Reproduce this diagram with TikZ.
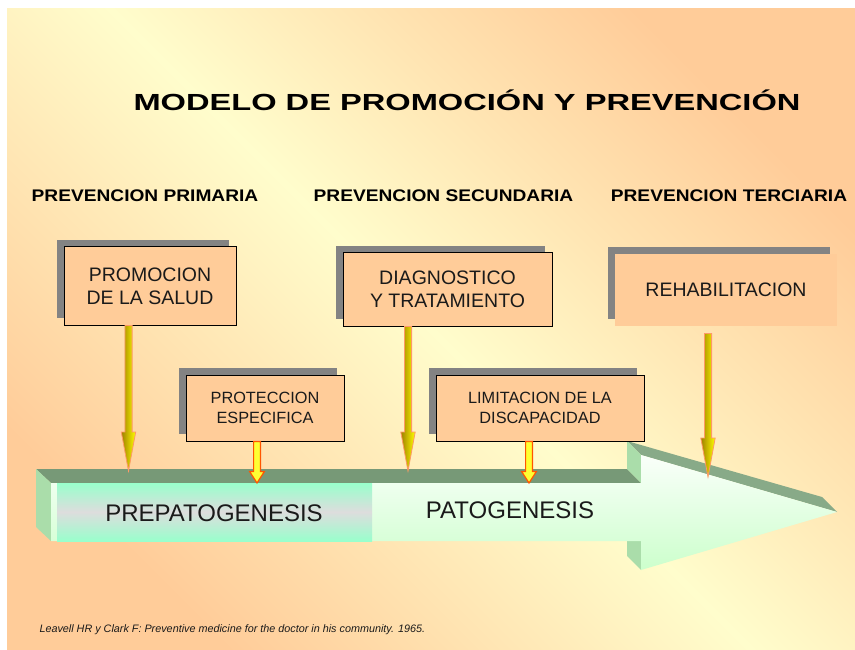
\documentclass[tikz,border=0pt]{standalone}
\usepackage{fontspec}
\setmainfont{Liberation Sans}
\newfontfamily\titlefont[FakeStretch=1.4]{Liberation Sans}
\newfontfamily\headfont[FakeStretch=1.14]{Liberation Sans}
\usetikzlibrary{calc,shadows}
\definecolor{bgYellow}{HTML}{FFFDCC}
\definecolor{bgOrange}{HTML}{FFCC99}
\definecolor{boxPeach}{HTML}{FFCC99}
\definecolor{shadowGray}{HTML}{838383}
\definecolor{barTop}{HTML}{779977}
\definecolor{headTop}{HTML}{88AA88}
\definecolor{barSide}{HTML}{AADDAA}
\definecolor{frontTop}{HTML}{FAFFFA}
\definecolor{frontBottom}{HTML}{CCFFCC}
\definecolor{aquaBand}{HTML}{99FFCC}
\definecolor{grayBand}{HTML}{DDDDDD}
\definecolor{goldDark}{HTML}{A08000}
\definecolor{goldLight}{HTML}{FFFF00}
\definecolor{goldEdge}{HTML}{FF9966}
\definecolor{tipYellow}{HTML}{FFFF33}
\definecolor{tipEdge}{HTML}{FF5500}
\definecolor{inkDark}{HTML}{1A1A1A}
% block arrow pointing down: top, tip, shaft half width, head half width, head length, style
\newcommand{\flecha}[6]{%
  \path[#6] ($(#1)+(-#3,0)$) -- ($(#2)+(-#3,-#5)$) -- ($(#2)+(-#4,-#5)$) -- (#2)
    -- ($(#2)+(#4,-#5)$) -- ($(#2)+(#3,-#5)$) -- ($(#1)+(#3,0)$) -- cycle;}

\begin{document}
\begin{tikzpicture}[
    x=1pt, y=-1pt,
    box/.style={draw, line width=1pt, fill=boxPeach, text=inkDark, align=center, inner sep=0pt,
      drop shadow={shadow xshift=-7pt, shadow yshift=7pt, opacity=1, fill=shadowGray}},
    bigbox/.style={box, font=\fontsize{19.5}{23}\selectfont},
    smallbox/.style={box, font=\fontsize{16.3}{20}\selectfont},
    heading/.style={font=\headfont\bfseries\fontsize{16.8}{20}\selectfont, text=black},
    phase/.style={font=\fontsize{24}{28}\selectfont, text=inkDark},
    goldarr/.style={left color=goldDark, right color=goldLight, draw=goldEdge, line width=0.8pt, line join=miter},
    tiparr/.style={fill=tipYellow, draw=tipEdge, line width=1.2pt, line join=miter}
  ]
    \useasboundingbox (0,0) rectangle (855,650);
    \shade[top color=bgOrange, bottom color=bgOrange, middle color=bgYellow, shading angle=-45]
      (7,9) rectangle (855,650);

    % titles
    \node[font=\titlefont\bfseries\fontsize{23.3}{28}\selectfont] (title) at (467,100)
      {MODELO DE PROMOCIÓN Y PREVENCIÓN};
    \node[heading] (hprim) at (145,196) {PREVENCION PRIMARIA};
    \node[heading] (hsec) at (443.5,196) {PREVENCION SECUNDARIA};
    \node[heading] (hter) at (729,196) {PREVENCION TERCIARIA};

    % 3d arrow
    \fill[barTop] (36,469) -- (627,469) -- (641,483) -- (51,483) -- cycle;
    \fill[barSide] (36,469) -- (51,483) -- (51,541) -- (36,527) -- cycle;
    \fill[headTop] (627,441) -- (822,497) -- (837,512) -- (641,455) -- cycle;
    \fill[barSide] (627,441) -- (641,455) -- (641,483) -- (627,469) -- cycle;
    \fill[barSide] (627,541) -- (641,541) -- (641,570) -- (627,556) -- cycle;
    \shade[top color=frontTop, bottom color=frontBottom]
      (51,483) -- (641,483) -- (641,455) -- (837,512) -- (641,570) -- (641,541) -- (51,541) -- cycle;
    \shade[top color=aquaBand, bottom color=aquaBand, middle color=grayBand]
      (57,483) rectangle (372,541);
    \node[phase] (prepat) at (214,513) {PREPATOGENESIS};
    \node[phase] (pat) at (510,510) {PATOGENESIS};

    % boxes
    \node[bigbox, minimum width=172pt, minimum height=78pt] (promo) at (150,286) {PROMOCION\\DE LA SALUD};
    \node[smallbox, minimum width=158pt, minimum height=66pt] (prot) at (265,408) {PROTECCION\\ESPECIFICA};
    \node[bigbox, minimum width=209pt, minimum height=73pt] (diag) at (447.5,289.5) {DIAGNOSTICO\\Y TRATAMIENTO};
    \node[smallbox, minimum width=208pt, minimum height=66pt] (lim) at (540,408) {LIMITACION DE LA\\DISCAPACIDAD};
    \node[bigbox, draw=none, minimum width=222pt, minimum height=72pt] (rehab) at (726,290) {REHABILITACION};

    % arrows
    \coordinate (t1) at (128.5,471);
    \coordinate (t2) at (408,471);
    \coordinate (t3) at (708,477);
    \coordinate (t4) at (257,483);
    \coordinate (t5) at (529,483);
    \coordinate (s1) at (t1 |- promo.south);
    \coordinate (s2) at (t2 |- diag.south);
    \coordinate (s3) at ($(t3 |- rehab.south)+(0,7)$);
    \coordinate (s4) at (t4 |- prot.south);
    \coordinate (s5) at (t5 |- lim.south);
    \flecha{s1}{t1}{3.6}{7.2}{39}{goldarr}
    \flecha{s2}{t2}{3.6}{7.2}{39}{goldarr}
    \flecha{s3}{t3}{3.6}{7.2}{39}{goldarr}
    \flecha{s4}{t4}{3.4}{7.4}{11.5}{tiparr}
    \flecha{s5}{t5}{3.4}{7.4}{11.5}{tiparr}

    \node[anchor=west, font=\itshape\fontsize{10.8}{13}\selectfont, text=inkDark] (fuente) at (36,630)
      {Leavell HR y Clark F: Preventive medicine for the doctor in his community. 1965.};
  \end{tikzpicture}
\end{document}
